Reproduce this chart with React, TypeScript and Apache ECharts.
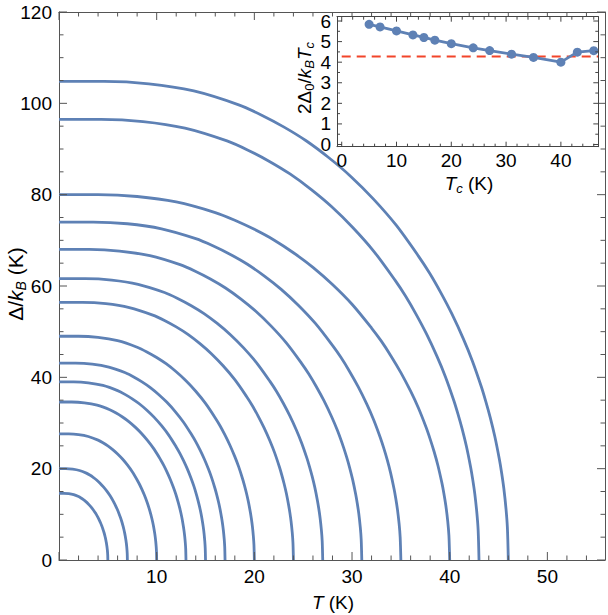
import React, { useEffect, useRef } from "react";
import * as echarts from "echarts";

// Transition temperatures Tc (K) and zero-temperature gaps Δ0/kB (K)
const transitionTemps = [5, 7, 10, 13, 15, 17, 20, 24, 27, 31, 35, 40, 43, 46];
const zeroTempGaps = [14.6, 20.0, 27.6, 34.6, 39.0, 43.1, 49.0, 56.4, 61.6, 68.0, 74.0, 80.0, 96.5, 104.8];

// Normalised gap Δ(T)/Δ0 against reduced temperature T/Tc
const reducedTemp = [
  0, 0.1, 0.2, 0.3, 0.4, 0.45, 0.5, 0.55, 0.6, 0.65, 0.7, 0.75, 0.8, 0.825, 0.85, 0.875, 0.9, 0.92, 0.94, 0.95,
  0.96, 0.97, 0.98, 0.985, 0.99, 0.995, 0.998, 1,
];
const reducedGap = [
  1, 1, 0.995, 0.98, 0.951, 0.93, 0.905, 0.876, 0.841, 0.801, 0.754, 0.7, 0.635, 0.599, 0.558, 0.513, 0.462, 0.416,
  0.362, 0.331, 0.297, 0.258, 0.211, 0.183, 0.15, 0.106, 0.067, 0,
];

// Weak-coupling reference ratio
const referenceRatio = 4.28;

// Tick values
const mainXLabels = [10, 20, 30, 40, 50];
const mainXMajor = [0, 10, 20, 30, 40, 50];
const mainXMinor = [2, 4, 6, 8, 12, 14, 16, 18, 22, 24, 26, 28, 32, 34, 36, 38, 42, 44, 46, 48, 52, 54];
const mainYMajor = [0, 20, 40, 60, 80, 100, 120];
const mainYMinor = [5, 10, 15, 25, 30, 35, 45, 50, 55, 65, 70, 75, 85, 90, 95, 105, 110, 115];
const insetXMajor = [0, 10, 20, 30, 40];
const insetXMinor = [2, 4, 6, 8, 12, 14, 16, 18, 22, 24, 26, 28, 32, 34, 36, 38, 42, 44, 46];
const insetYMajor = [0, 1, 2, 3, 4, 5, 6];
const insetYMinor = [0.5, 1.5, 2.5, 3.5, 4.5, 5.5];

const FONT = '"Liberation Sans", Arial, sans-serif';
const BLUE = "#5E81B5";
const RED = "#F2452A";

const MAIN_X: [number, number] = [0, 55.9];
const MAIN_Y: [number, number] = [0, 120];
const INSET_X: [number, number] = [-0.86, 46.83];
const INSET_Y: [number, number] = [-0.107, 6.21];

// Frame axes: labelled side and mirrored side (line only)
function frameAxes(
  gridIndex: number,
  dim: "x" | "y",
  range: [number, number],
  labels: number[],
  color: string,
  margin: number,
  z: number
) {
  const sides = dim === "x" ? ["bottom", "top"] : ["left", "right"];
  return sides.map((position, k) => ({
    type: "value",
    gridIndex,
    position,
    min: range[0],
    max: range[1],
    z,
    axisLine: { show: true, onZero: false, lineStyle: { color, width: 1 } },
    axisTick: { show: false },
    axisLabel:
      k === 0
        ? { show: true, customValues: labels, margin, color: "#000", fontSize: 19, fontFamily: FONT }
        : { show: false },
    splitLine: { show: false },
  }));
}

// Inward ticks on both opposite sides of a frame, placed through the axis scales
function tickSeries(
  axisIndex: number,
  dim: "x" | "y",
  values: number[],
  len: number,
  xr: [number, number],
  yr: [number, number],
  color: string,
  z: number
) {
  return {
    type: "custom",
    coordinateSystem: "cartesian2d",
    xAxisIndex: axisIndex,
    yAxisIndex: axisIndex,
    silent: true,
    clip: false,
    z,
    data: values.map((v) => [v, v]),
    renderItem: (_params: any, api: any) => {
      const v = api.value(0);
      const style = { stroke: color, lineWidth: 1 };
      if (dim === "x") {
        const a = api.coord([v, yr[0]]);
        const b = api.coord([v, yr[1]]);
        return {
          type: "group",
          children: [
            { type: "line", shape: { x1: a[0], y1: a[1], x2: a[0], y2: a[1] - len }, style },
            { type: "line", shape: { x1: b[0], y1: b[1], x2: b[0], y2: b[1] + len }, style },
          ],
        };
      }
      const a = api.coord([xr[0], v]);
      const b = api.coord([xr[1], v]);
      return {
        type: "group",
        children: [
          { type: "line", shape: { x1: a[0], y1: a[1], x2: a[0] + len, y2: a[1] }, style },
          { type: "line", shape: { x1: b[0], y1: b[1], x2: b[0] - len, y2: b[1] }, style },
        ],
      };
    },
  };
}

function richStyles(size: number) {
  const sub = Math.round(size * 0.68);
  const pad = Math.round(size * 0.52);
  return {
    i: { fontSize: size, fontFamily: FONT, fontStyle: "italic", fill: "#000" },
    sub: { fontSize: sub, fontFamily: FONT, fill: "#000", padding: [pad, 0, 0, 0] },
    subi: { fontSize: sub, fontFamily: FONT, fontStyle: "italic", fill: "#000", padding: [pad, 0, 0, 0] },
  };
}

function title(text: string, x: number, y: number, rotation = 0, size = 19) {
  return {
    type: "text",
    x,
    y,
    rotation,
    z: 100,
    style: {
      text,
      rich: richStyles(size),
      fontSize: size,
      fontFamily: FONT,
      fill: "#000",
      align: "center",
      verticalAlign: "middle",
      textAlign: "center",
      textVerticalAlign: "middle",
    },
  };
}

export default function App() {
  const ref = useRef<HTMLDivElement>(null);

  useEffect(() => {
    document.body.style.margin = "0";
    if (!ref.current) return;
    const chart = echarts.init(ref.current, undefined, { renderer: "svg" });

    const gapSeries = transitionTemps.map((tc, k) => ({
      type: "line",
      xAxisIndex: 0,
      yAxisIndex: 0,
      smooth: 0.3,
      symbol: "none",
      lineStyle: { color: BLUE, width: 2.8 },
      data: reducedTemp.map((t, j) => [t * tc, reducedGap[j] * zeroTempGaps[k]]),
      z: 2,
    }));

    const ratioData = transitionTemps.map((tc, k) => [tc, (2 * zeroTempGaps[k]) / tc]);

    const mainColor = "#555";
    const insetColor = "#444";

    chart.setOption({
      animation: false,
      backgroundColor: "#fff",
      grid: [
        { left: 59, top: 12, width: 546, height: 548, containLabel: false },
        {
          left: 337,
          top: 16.7,
          width: 261.3,
          height: 130,
          show: true,
          backgroundColor: "#fff",
          borderWidth: 0,
          z: 5,
        },
      ],
      xAxis: [
        ...frameAxes(0, "x", MAIN_X, mainXLabels, mainColor, 7, 1),
        ...frameAxes(1, "x", INSET_X, insetXMajor, insetColor, 4, 8),
      ],
      yAxis: [
        ...frameAxes(0, "y", MAIN_Y, mainYMajor, mainColor, 7, 1),
        ...frameAxes(1, "y", INSET_Y, insetYMajor, insetColor, 6, 8),
      ],
      series: [
        ...gapSeries,
        tickSeries(0, "x", mainXMajor, 8, MAIN_X, MAIN_Y, mainColor, 3),
        tickSeries(0, "x", mainXMinor, 4.5, MAIN_X, MAIN_Y, mainColor, 3),
        tickSeries(0, "y", mainYMajor, 8, MAIN_X, MAIN_Y, mainColor, 3),
        tickSeries(0, "y", mainYMinor, 4.5, MAIN_X, MAIN_Y, mainColor, 3),
        {
          type: "line",
          xAxisIndex: 2,
          yAxisIndex: 2,
          symbol: "none",
          lineStyle: { color: RED, width: 2, type: [9, 6] },
          data: [
            [0, referenceRatio],
            [INSET_X[1], referenceRatio],
          ],
          z: 6,
        },
        {
          type: "line",
          xAxisIndex: 2,
          yAxisIndex: 2,
          symbol: "circle",
          symbolSize: 9,
          itemStyle: { color: BLUE },
          lineStyle: { color: BLUE, width: 2.8 },
          data: ratioData,
          z: 7,
        },
        tickSeries(2, "x", insetXMajor, 5, INSET_X, INSET_Y, insetColor, 8),
        tickSeries(2, "x", insetXMinor, 3, INSET_X, INSET_Y, insetColor, 8),
        tickSeries(2, "y", insetYMajor, 5, INSET_X, INSET_Y, insetColor, 8),
        tickSeries(2, "y", insetYMinor, 3, INSET_X, INSET_Y, insetColor, 8),
      ],
      graphic: [
        title("{i|T} (K)", 333, 602),
        title("Δ/{i|k}{subi|B} (K)", 15, 284, Math.PI / 2, 21),
        title("2Δ{sub|0}/{i|k}{subi|B}{i|T}{subi|c}", 304, 78, Math.PI / 2),
        title("{i|T}{subi|c} (K)", 469, 183),
      ],
    });

    return () => chart.dispose();
  }, []);

  return <div ref={ref} style={{ width: 608, height: 615 }} />;
}
